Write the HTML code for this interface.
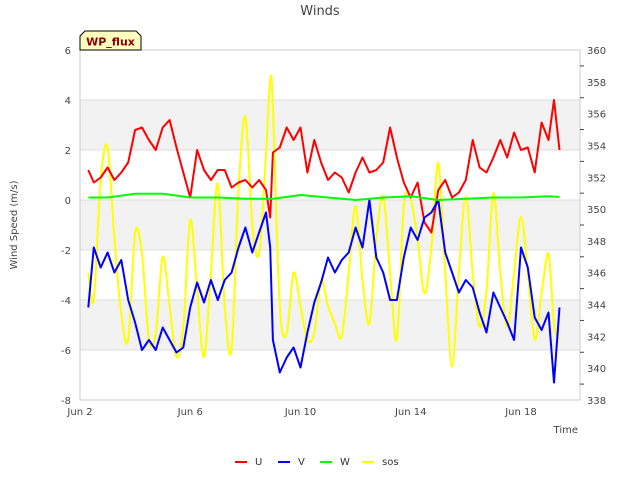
<!DOCTYPE html>
<html><head><meta charset="utf-8"><style>
body{margin:0;background:#fff;font-family:"Liberation Sans","DejaVu Sans",sans-serif}
svg text{font-family:"DejaVu Sans","Liberation Sans",sans-serif}
</style></head><body>
<svg id="chart" width="640" height="480" viewBox="0 0 640 480" xmlns="http://www.w3.org/2000/svg">
<defs><clipPath id="clip"><rect x="80" y="50" width="500" height="350"/></clipPath></defs>
<rect x="80" y="50" width="500" height="350" fill="#fff"/>
<g id="bands"></g>
<g id="grid"></g>
<rect x="80" y="50" width="500" height="350" fill="none" stroke="#ccc"/>
<g id="series" clip-path="url(#clip)"></g>
<g id="axes"></g>
<text x="320" y="15" text-anchor="middle" font-size="13" fill="#444">Winds</text>
<text transform="translate(17,225) rotate(-90)" text-anchor="middle" font-size="10" fill="#444">Wind Speed (m/s)</text>
<text x="578" y="433" text-anchor="end" font-size="10" fill="#444">Time</text>
<g>
<path d="M80,50 L80,36 L85,31 L136,31 L141,36 L141,50 Z" fill="#ffffc0" stroke="#000" stroke-width="1"/>
<text x="110.5" y="45.5" text-anchor="middle" font-size="11" font-weight="bold" fill="#8b0000">WP_flux</text>
</g>
<g id="legend"></g>
</svg>
<script>
const days=[2.3,2.5,2.75,3,3.25,3.5,3.75,4,4.25,4.5,4.75,5,5.25,5.5,5.75,6,6.25,6.5,6.75,7,7.25,7.5,7.75,8,8.25,8.5,8.75,8.9,9,9.25,9.5,9.75,10,10.25,10.5,10.75,11,11.25,11.5,11.75,12,12.25,12.5,12.75,13,13.25,13.5,13.75,14,14.25,14.5,14.75,15,15.25,15.5,15.75,16,16.25,16.5,16.75,17,17.25,17.5,17.75,18,18.25,18.5,18.75,19,19.2,19.4];
const uVals=[1.2,0.7,0.9,1.3,0.8,1.1,1.5,2.8,2.9,2.4,2.0,2.9,3.2,2.1,1.1,0.1,2.0,1.2,0.8,1.2,1.2,0.5,0.7,0.8,0.5,0.8,0.4,-0.7,1.9,2.1,2.9,2.4,2.9,1.1,2.4,1.5,0.8,1.1,0.9,0.3,1.1,1.7,1.1,1.2,1.5,2.9,1.7,0.7,0.1,0.7,-0.9,-1.3,0.4,0.8,0.1,0.3,0.8,2.4,1.3,1.1,1.7,2.4,1.7,2.7,2.0,2.1,1.1,3.1,2.4,4.0,2.0];
const vVals=[-4.3,-1.9,-2.7,-2.1,-2.9,-2.4,-4.0,-4.9,-6.0,-5.6,-6.0,-5.1,-5.6,-6.1,-5.9,-4.3,-3.3,-4.1,-3.2,-4.0,-3.2,-2.9,-1.9,-1.1,-2.1,-1.3,-0.5,-1.9,-5.6,-6.9,-6.3,-5.9,-6.7,-5.3,-4.1,-3.3,-2.3,-2.9,-2.4,-2.1,-1.1,-1.9,0,-2.3,-2.9,-4.0,-4.0,-2.3,-1.1,-1.6,-0.7,-0.5,0,-2.1,-2.9,-3.7,-3.2,-3.5,-4.5,-5.3,-3.7,-4.3,-4.9,-5.6,-1.9,-2.7,-4.7,-5.2,-4.5,-7.3,-4.3];
const wDays=[2.3,3,4,5,6,7,8,9,10,11,12,13,14,15,16,17,18,19,19.4];
const wVals=[0.1,0.1,0.25,0.25,0.1,0.1,0.05,0.05,0.2,0.1,0,0.1,0.15,0,0.05,0.1,0.1,0.15,0.12];
const sosVals=[346.0,344.3,351.8,353.9,348.1,343.4,341.8,348.5,347.2,341.8,342.2,347.0,343.9,340.7,342.6,349.3,344.9,340.7,346.0,351.6,343.9,341.2,351.2,355.8,349.1,347.2,353.5,358.1,356.4,343.9,342.2,346.0,343.9,341.8,342.2,345.5,343.9,342.8,342.0,346.0,350.2,345.5,342.8,348.1,350.8,346.0,341.8,350.2,350.6,348.1,344.7,347.6,352.9,346.0,340.1,346.0,350.8,346.0,342.6,344.9,351.0,346.0,342.6,346.0,349.5,346.0,341.8,344.7,347.2,342.8,341.8];
const yTicks=[-8,-6,-4,-2,0,2,4,6];
const y2Ticks=[338,340,342,344,346,348,350,352,354,356,358,360];
const xTicks=[2,6,10,14,18];
const xLabels=["Jun 2","Jun 6","Jun 10","Jun 14","Jun 18"];

const NS="http://www.w3.org/2000/svg";
const X=d=>80+(d-2)*27.56;
const Y=v=>200-v*25;
const Y2=s=>50+(360-s)*350/22;
function mk(tag,attrs,parent){const e=document.createElementNS(NS,tag);for(const k in attrs)e.setAttribute(k,attrs[k]);parent.appendChild(e);return e;}
const bands=document.getElementById('bands'),grid=document.getElementById('grid'),axes=document.getElementById('axes'),series=document.getElementById('series'),legend=document.getElementById('legend');
[[2,4],[-2,0],[-6,-4]].forEach(b=>{
 const r=mk('rect',{x:80,y:Y(b[1]),width:500,height:Y(b[0])-Y(b[1]),fill:'#f2f2f2'},bands);
 
 
});
yTicks.forEach(v=>{
 const l=mk('line',{x1:80,x2:580,y1:Y(v),y2:Y(v),stroke:'#ddd'},grid);
 
 
 const t=mk('text',{x:71,y:Y(v)+4,'text-anchor':'end','font-size':10,fill:'#444'},axes);
 t.textContent=v;
 
 
});
y2Ticks.forEach(s=>{
 const t=mk('text',{x:587,y:Y2(s)+4,'font-size':10,fill:'#444'},axes);
 t.textContent=s;
 
 
 if(s<360){const m=mk('line',{x1:580,x2:584,y1:Y2(s+1),y2:Y2(s+1),stroke:'#444'},axes);
 
 }
});
xTicks.forEach((d,i)=>{
 const t=mk('text',{x:X(d),y:415,'text-anchor':'middle','font-size':10,fill:'#444'},axes);
 t.textContent=xLabels[i];
 
 
});
function line(xs,ys,fx,fy,color,name,smooth){
 const pts=xs.map((d,i)=>[fx(d),fy(ys[i])]);
 let dstr='M'+pts[0][0].toFixed(1)+','+pts[0][1].toFixed(1);
 for(let i=0;i<pts.length-1;i++){
  if(smooth){
   const p0=pts[Math.max(0,i-1)],p1=pts[i],p2=pts[i+1],p3=pts[Math.min(pts.length-1,i+2)];
   const c1=[p1[0]+(p2[0]-p0[0])/6,p1[1]+(p2[1]-p0[1])/6],c2=[p2[0]-(p3[0]-p1[0])/6,p2[1]-(p3[1]-p1[1])/6];
   dstr+=' C'+c1.map(v=>v.toFixed(1)).join(',')+' '+c2.map(v=>v.toFixed(1)).join(',')+' '+p2.map(v=>v.toFixed(1)).join(',');
  } else dstr+=' L'+pts[i+1][0].toFixed(1)+','+pts[i+1][1].toFixed(1);
 }
 const pl=mk('path',{d:dstr,fill:'none',stroke:color,'stroke-width':2,'stroke-linejoin':'round'},series);
 
 
}
line(days,sosVals,X,Y2,'#ffff00','sos-line',true);
line(days,uVals,X,Y,'#ff0000','u-line',false);
line(days,vVals,X,Y,'#0000ff','v-line',false);
line(wDays,wVals,X,Y,'#00ff00','w-line',false);
[['U','#ff0000',235],['V','#0000ff',278],['W','#00ff00',320],['sos','#ffff00',362]].forEach(e=>{
 const g=mk('g',{},legend);
 
 
 mk('line',{x1:e[2],x2:e[2]+12,y1:462,y2:462,stroke:e[1],'stroke-width':2},g);
 const t=mk('text',{x:e[2]+20,y:465,'font-size':10,fill:'#333'},g);
 t.textContent=e[0];
});
</script>
</body></html>
